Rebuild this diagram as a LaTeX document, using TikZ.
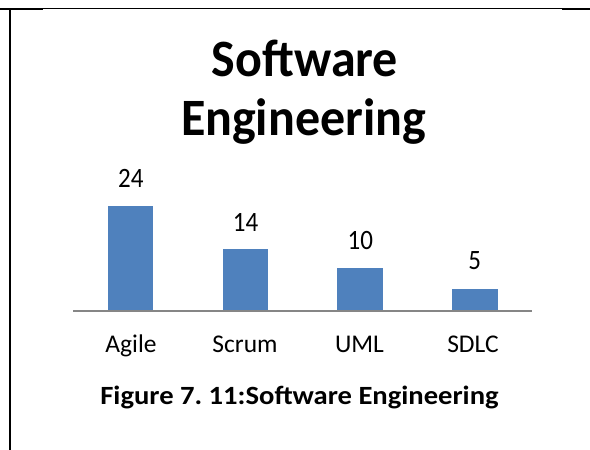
\documentclass[tikz,border=0pt]{standalone}
\usepackage{fontspec}
\setmainfont{Carlito}
\definecolor{barblue}{HTML}{4F81BD}
\definecolor{axisgray}{HTML}{868686}
\newcommand{\vstretch}[2]{\scalebox{1}[#1]{#2}}
\frenchspacing
\begin{document}
\begin{tikzpicture}[x=1pt,y=-1pt,
  bar/.style={fill=barblue,draw=none},
  val/.style={anchor=base,inner sep=0pt,font=\fontsize{25}{30}\selectfont},
  cat/.style={anchor=base,inner sep=0pt,font=\fontsize{25.5}{30}\selectfont},
  ttl/.style={anchor=base,inner sep=0pt,font=\fontsize{50}{60}\selectfont\bfseries}]
\useasboundingbox (0,0) rectangle (590,450);
% table borders
\draw[line width=1pt] (43,8.5) coordinate (tl) -- (562,8.5) coordinate (tr);
\draw[line width=2pt] (0,9) coordinate (a0) -- (43,9) coordinate (a1);
\draw[line width=2pt] (562,9) coordinate (b0) -- (590,9) coordinate (b1);
\draw[line width=2pt] (10.3,8) coordinate (v0) -- (10.3,450) coordinate (v1);
% title
\node[ttl] (t1) at (305,76.5) {\vstretch{1.05}{Software}};
\node[ttl] (t2) at (303.5,135) {\vstretch{1.05}{Engineering}};
% axis
\draw[axisgray,line width=1.3pt] (73,311) coordinate (ax0) -- (532,311) coordinate (ax1);
% bars
\fill[bar] (108.3,206) rectangle (153.3,310.4) coordinate (bagile);
\fill[bar] (222.7,249.3) rectangle (268.3,310.4) coordinate (bscrum);
\fill[bar] (337.3,267.7) rectangle (383.3,310.4) coordinate (buml);
\fill[bar] (451.7,289.3) rectangle (497.7,310.4) coordinate (bsdlc);
% values
\node[val] (v24) at (130.8,187.5) {\vstretch{1.12}{24}};
\node[val] (v14) at (245.5,231.2) {\vstretch{1.12}{14}};
\node[val] (v10) at (360.3,249) {\vstretch{1.12}{10}};
\node[val] (v5) at (474.7,269.7) {\vstretch{1.12}{5}};
% categories
\node[cat] (cagile) at (131,352.3) {Agile};
\node[cat] (cscrum) at (245,352.3) {Scrum};
\node[cat] (cuml) at (359.5,352.3) {UML};
\node[cat] (csdlc) at (473,352.3) {SDLC};
% caption
\node[anchor=base,inner sep=0pt,font=\fontsize{28.6}{34}\selectfont\bfseries] (cap) at (299.5,404) {\vstretch{0.92}{Figure 7. 11:Software Engineering}};
\end{tikzpicture}
\end{document}
